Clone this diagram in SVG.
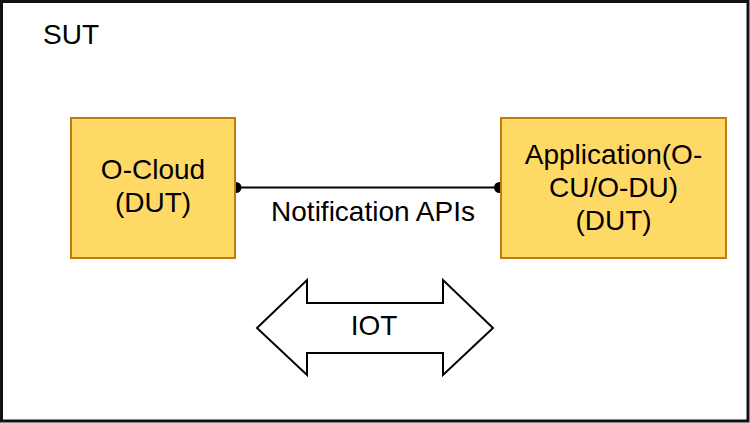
<svg xmlns="http://www.w3.org/2000/svg" width="750" height="423" viewBox="0 0 750 423">
  <style>
    text { font-family: "Liberation Sans", Arial, sans-serif; font-size: 28px; fill: #000; text-anchor: middle; }
    .box { fill: #FFD966; stroke: #C27C0E; stroke-width: 2; }
  </style>
  <rect width="750" height="423" fill="#fff"/>
  <g id="sut">
    <rect x="1.5" y="1.5" width="746.5" height="419.5" fill="#fff" stroke="#111" stroke-width="3"/>
    <text x="71" y="44">SUT</text>
  </g>
  <g id="connectors">
    <line x1="236" y1="187.5" x2="499" y2="187.5" stroke="#000" stroke-width="2"/>
    <circle cx="236" cy="187.5" r="5.5" fill="#000"/>
    <circle cx="499.5" cy="187.5" r="5.5" fill="#000"/>
    <text x="373" y="221">Notification APIs</text>
  </g>
  <g id="ocloud">
    <rect class="box" x="71" y="118" width="164" height="140"/>
    <text x="153" y="179">O-Cloud</text>
    <text x="153" y="212">(DUT)</text>
  </g>
  <g id="application">
    <rect class="box" x="501" y="118" width="225" height="140"/>
    <text x="613.5" y="164">Application(O-</text>
    <text x="613.5" y="197">CU/O-DU)</text>
    <text x="613.5" y="230">(DUT)</text>
  </g>
  <g id="iot">
    <path d="M257,328 L307,280 L307,303 L443,303 L443,280 L493,328 L443,375 L443,353 L307,353 L307,375 Z" fill="#fff" stroke="#000" stroke-width="2" stroke-linejoin="miter"/>
    <text x="374" y="335">IOT</text>
  </g>
</svg>
